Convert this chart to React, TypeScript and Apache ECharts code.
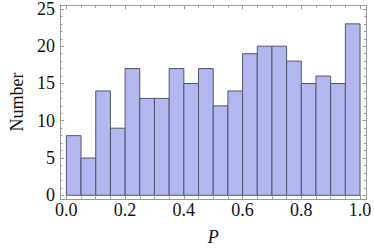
import React, { useEffect, useRef } from "react";
import * as echarts from "echarts";

const binStarts = [0.0, 0.05, 0.1, 0.15, 0.2, 0.25, 0.3, 0.35, 0.4, 0.45, 0.5, 0.55, 0.6, 0.65, 0.7, 0.75, 0.8, 0.85, 0.9, 0.95];
const binWidth = 0.05;
const counts = [8, 5, 14, 9, 17, 13, 13, 17, 15, 17, 12, 14, 19, 20, 20, 18, 15, 16, 15, 23];

const xMajorTicks = [0, 0.2, 0.4, 0.6, 0.8, 1.0];
const xMinorTicks = [0.05, 0.1, 0.15, 0.25, 0.3, 0.35, 0.45, 0.5, 0.55, 0.65, 0.7, 0.75, 0.85, 0.9, 0.95];
const yMajorTicks = [0, 5, 10, 15, 20, 25];
const yMinorTicks = [1, 2, 3, 4, 6, 7, 8, 9, 11, 12, 13, 14, 16, 17, 18, 19, 21, 22, 23, 24];

const xName = "P";
const yName = "Number";

const X_MIN = -0.022;
const X_MAX = 1.022;
const Y_MIN = -0.5;
const Y_MAX = 25.5;

const FRAME = "#9a9a9a";
const FONT = "Liberation Serif";

function xAxisDef(position: string, ticks: number[], len: number, labels: boolean, line: boolean, name?: string) {
  return {
    type: "value",
    position,
    min: X_MIN,
    max: X_MAX,
    splitLine: { show: false },
    axisLine: { show: line, onZero: false, lineStyle: { color: FRAME, width: 1 } },
    axisTick: { show: true, inside: true, length: len, customValues: ticks, lineStyle: { color: FRAME, width: 1 } },
    axisLabel: labels
      ? {
          show: true,
          customValues: ticks,
          formatter: (v: number) => v.toFixed(1),
          fontFamily: FONT,
          fontSize: 18,
          color: "#111",
          margin: 2,
        }
      : { show: false },
    name: name || "",
    nameLocation: "middle",
    nameGap: 29,
    nameTextStyle: { fontFamily: FONT, fontSize: 18, fontStyle: "italic", color: "#111" },
  };
}

function yAxisDef(position: string, ticks: number[], len: number, labels: boolean, line: boolean, name?: string) {
  return {
    type: "value",
    position,
    min: Y_MIN,
    max: Y_MAX,
    splitLine: { show: false },
    axisLine: { show: line, onZero: false, lineStyle: { color: FRAME, width: 1 } },
    axisTick: { show: true, inside: true, length: len, customValues: ticks, lineStyle: { color: FRAME, width: 1 } },
    axisLabel: labels
      ? {
          show: true,
          customValues: ticks,
          formatter: (v: number) => String(v),
          fontFamily: FONT,
          fontSize: 18,
          color: "#111",
          margin: 5,
        }
      : { show: false },
    name: name || "",
    nameLocation: "middle",
    nameGap: 20,
    nameRotate: 90,
    nameTextStyle: { fontFamily: FONT, fontSize: 18, color: "#111" },
  };
}

export default function App() {
  const ref = useRef<HTMLDivElement>(null);
  useEffect(() => {
    document.body.style.margin = "0";
    if (!ref.current) return;
    const chart = echarts.init(ref.current, null, { renderer: "svg" });
    const data = binStarts.map((s, i) => [s, s + binWidth, counts[i]]);
    chart.setOption({
      animation: false,
      grid: { left: 46, right: 6, top: 5, bottom: 50, containLabel: false },
      xAxis: [
        xAxisDef("bottom", xMajorTicks, 4, true, true, xName),
        xAxisDef("bottom", xMinorTicks, 2.5, false, false),
        xAxisDef("top", xMajorTicks, 4, false, true),
        xAxisDef("top", xMinorTicks, 2.5, false, false),
      ],
      yAxis: [
        yAxisDef("left", yMajorTicks, 4, true, true, yName),
        yAxisDef("left", yMinorTicks, 2.5, false, false),
        yAxisDef("right", yMajorTicks, 4, false, true),
        yAxisDef("right", yMinorTicks, 2.5, false, false),
      ],
      series: [
        {
          type: "custom",
          xAxisIndex: 0,
          yAxisIndex: 0,
          data,
          encode: { x: [0, 1], y: 2 },
          renderItem: (params: any, api: any) => {
            const x0 = api.value(0);
            const x1 = api.value(1);
            const c = api.value(2);
            const p0 = api.coord([x0, c]);
            const p1 = api.coord([x1, 0]);
            return {
              type: "rect",
              shape: { x: p0[0], y: p0[1], width: p1[0] - p0[0], height: p1[1] - p0[1] },
              style: { fill: "#b2b7f0", stroke: "#54546a", lineWidth: 1 },
            };
          },
        },
      ],
    });
    return () => chart.dispose();
  }, []);
  return <div ref={ref} style={{ position: "absolute", left: 0, top: 0, width: 374, height: 251 }} />;
}
